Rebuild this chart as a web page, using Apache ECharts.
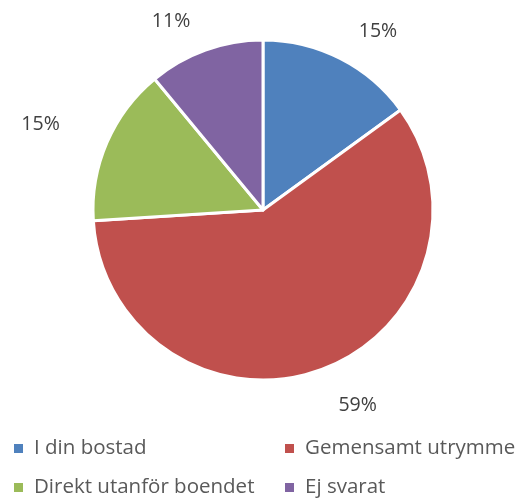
<!DOCTYPE html>
<html>
<head>
<meta charset="utf-8">
<script src="https://cdn.jsdelivr.net/npm/echarts@6/dist/echarts.min.js"></script>
<style>
  html, body { margin: 0; padding: 0; background: #fff; }
  #chart { width: 523px; height: 501px; }
</style>
</head>
<body>
<div id="chart"></div>
<script>
const categories = ['I din bostad', 'Gemensamt utrymme', 'Direkt utanför boendet', 'Ej svarat']
const values = [15, 59, 15, 11]
const colors = ['#4f81bd', '#c0504d', '#9bbb59', '#8064a2']

const chart = echarts.init(document.getElementById('chart'))
const font = 'Open Sans'
const textStyle = { fontFamily: font, fontSize: 20.5, color: '#595959', padding: [0, 0, 0, 5] }

const legendBase = {
  orient: 'vertical',
  top: 438,
  height: 70,
  itemWidth: 11,
  itemHeight: 11,
  itemGap: 18,
  icon: 'rect',
  padding: 0,
  textStyle: textStyle
}

const option = {
  color: colors,
  legend: [
    Object.assign({}, legendBase, { left: 12, data: [categories[0], categories[2]] }),
    Object.assign({}, legendBase, { left: 283, data: [categories[1], categories[3]] })
  ],
  series: [
    {
      type: 'pie',
      center: [263, 210],
      radius: 170,
      startAngle: 90,
      clockwise: true,
      avoidLabelOverlap: false,
      itemStyle: { borderColor: '#fff', borderWidth: 3 },
      label: {
        show: true,
        position: 'outside',
        formatter: '{c}%',
        fontFamily: font,
        fontSize: 19.5,
        color: '#404040'
      },
      labelLine: { show: false, length: 30, length2: 0 },
      emphasis: { scale: false },
      data: categories.map((name, i) => {
        const item = { name: name, value: values[i] }
        // Excel pushes these labels a bit further out
        if (i === 1) item.labelLine = { show: false, length: 38, length2: 0 }
        if (i === 2) item.labelLine = { show: false, length: 46, length2: 0 }
        return item
      })
    }
  ]
}
chart.setOption(option)
</script>
</body>
</html>
